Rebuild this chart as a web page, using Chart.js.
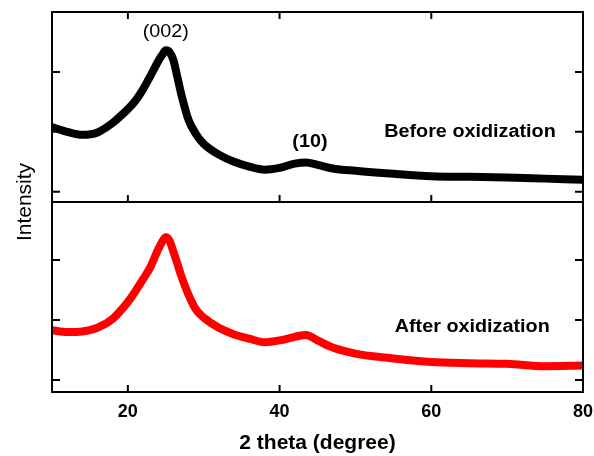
<!DOCTYPE html>
<html>
<head>
<meta charset="utf-8">
<script src="https://cdn.jsdelivr.net/npm/chart.js@4.4.1/dist/chart.umd.min.js"></script>
<style>
  html, body { margin: 0; padding: 0; background: #fff; }
  #wrap { position: relative; width: 594px; height: 456px; }
</style>
</head>
<body>
<div id="wrap"><canvas id="chart" width="594" height="456"></canvas></div>
<script>
// 2 theta positions (degree) where the patterns were read
var twoTheta = [10, 12, 14, 16, 18, 19, 20, 21, 22, 23, 24, 24.5, 25, 25.5, 26, 26.5, 27, 28, 29, 30,
                32, 34, 36, 38, 40, 42, 43.5, 45, 47, 50, 55, 60, 65, 70, 75, 80];
// intensity, before oxidization (upper panel)
var beforeOx = [108, 100, 95, 99, 115, 126, 138, 152, 171, 194, 218, 228, 236, 233, 220, 193, 165, 120, 96, 80,
                62, 50, 42, 37, 40, 47, 49, 45, 39, 35, 30, 26, 25, 24, 22, 20];
// intensity, after oxidization (lower panel)
var afterOx = [83, 80, 81, 87, 102, 115, 130, 148, 168, 189, 218, 230, 238, 232, 214, 195, 175, 142, 117, 104,
               87, 76, 69, 63, 66, 72, 75, 66, 54, 44, 36, 30, 28, 27, 23, 24];

var xTicks = [20, 40, 60, 80];
var yTicks = [0, 100, 200];

var FONT = "'Liberation Sans', Arial, sans-serif";

// text drawn inside the panels
var notes = [
  { text: '(002)', x: 25, y: 267, axis: 'yTop', bold: false },
  { text: '(10)', x: 44, y: 83, axis: 'yTop', bold: true },
  { text: 'Before oxidization', x: 65.1, y: 99, axis: 'yTop', bold: true },
  { text: 'After oxidization', x: 65.4, y: 89, axis: 'yBot', bold: true }
];

function toPoints(values) {
  return twoTheta.map(function (t, i) { return { x: t, y: values[i] }; });
}

function wideText(ctx, text, x, y, font) {
  ctx.save();
  ctx.font = font;
  ctx.translate(x, y);
  ctx.scale(1.1, 1);
  ctx.textAlign = 'center';
  ctx.textBaseline = 'middle';
  ctx.fillText(text, 0, 0);
  ctx.restore();
}

// frame, inward ticks and labels
var framePlugin = {
  id: 'frame',
  afterDatasetsDraw: function (chart) {
    var ctx = chart.ctx;
    var a = chart.chartArea;
    var xs = chart.scales.x;
    var top = chart.scales.yTop, bot = chart.scales.yBot;
    var split = top.bottom;

    ctx.save();
    ctx.strokeStyle = '#000';
    ctx.fillStyle = '#000';
    ctx.lineWidth = 2;
    ctx.strokeRect(a.left, a.top, a.right - a.left, a.bottom - a.top);
    ctx.beginPath();
    ctx.moveTo(a.left, split);
    ctx.lineTo(a.right, split);
    ctx.stroke();

    ctx.beginPath();
    xTicks.forEach(function (v) {
      var px = xs.getPixelForValue(v);
      ctx.moveTo(px, a.bottom); ctx.lineTo(px, a.bottom - 7);
      ctx.moveTo(px, a.top); ctx.lineTo(px, a.top + 7);
      ctx.moveTo(px, split); ctx.lineTo(px, split - 7);
    });
    [top, bot].forEach(function (s) {
      yTicks.forEach(function (v) {
        var py = s.getPixelForValue(v);
        ctx.moveTo(a.left, py); ctx.lineTo(a.left + 8, py);
        ctx.moveTo(a.right, py); ctx.lineTo(a.right - 8, py);
      });
    });
    ctx.stroke();

    notes.forEach(function (n) {
      var s = chart.scales[n.axis];
      wideText(ctx, n.text, xs.getPixelForValue(n.x), s.getPixelForValue(n.y),
        (n.bold ? 'bold ' : '') + '18px ' + FONT);
    });

    // y title
    ctx.save();
    ctx.translate(25, (a.top + a.bottom) / 2);
    ctx.rotate(-Math.PI / 2);
    ctx.font = '21px ' + FONT;
    ctx.textAlign = 'center';
    ctx.textBaseline = 'middle';
    ctx.fillText('Intensity', 0, 0);
    ctx.restore();

    ctx.restore();
  }
};

var hiddenY = {
  type: 'linear',
  position: 'left',
  stack: 'panels',
  stackWeight: 1,
  ticks: { display: false },
  grid: { display: false },
  border: { display: false },
  afterFit: function (s) { s.width = 0; s.paddingTop = 0; s.paddingBottom = 0; }
};

var ctx = document.getElementById('chart').getContext('2d');
var chartXrd = new Chart(ctx, {
  type: 'line',
  data: {
    datasets: [
      {
        label: 'Before oxidization',
        data: toPoints(beforeOx),
        yAxisID: 'yTop',
        borderColor: '#000000',
        borderWidth: 8,
        pointRadius: 0,
        cubicInterpolationMode: 'monotone'
      },
      {
        label: 'After oxidization',
        data: toPoints(afterOx),
        yAxisID: 'yBot',
        borderColor: '#ff0000',
        borderWidth: 8,
        pointRadius: 0,
        cubicInterpolationMode: 'monotone'
      }
    ]
  },
  options: {
    responsive: false,
    animation: false,
    layout: { padding: { left: 52, right: 11, top: 12, bottom: 0 } },
    plugins: { legend: { display: false }, tooltip: { enabled: false } },
    scales: {
      x: {
        type: 'linear',
        position: 'bottom',
        min: 10,
        max: 80,
        grid: { display: false },
        border: { display: false },
        afterBuildTicks: function (s) { s.ticks = xTicks.map(function (v) { return { value: v }; }); },
        afterFit: function (s) { s.height = 64; s.paddingLeft = 0; s.paddingRight = 0; },
        ticks: { color: '#000', padding: 1, maxRotation: 0, font: { family: FONT, size: 18, weight: 'bold' } },
        title: {
          display: true,
          text: '2 theta (degree)',
          color: '#000',
          padding: 0,
          font: { family: FONT, size: 21, weight: 'bold' }
        }
      },
      yBot: Object.assign({}, hiddenY, { min: -20, max: 296.7 }),
      yTop: Object.assign({}, hiddenY, { min: -17, max: 300 })
    }
  },
  plugins: [framePlugin]
});
</script>
</body>
</html>
